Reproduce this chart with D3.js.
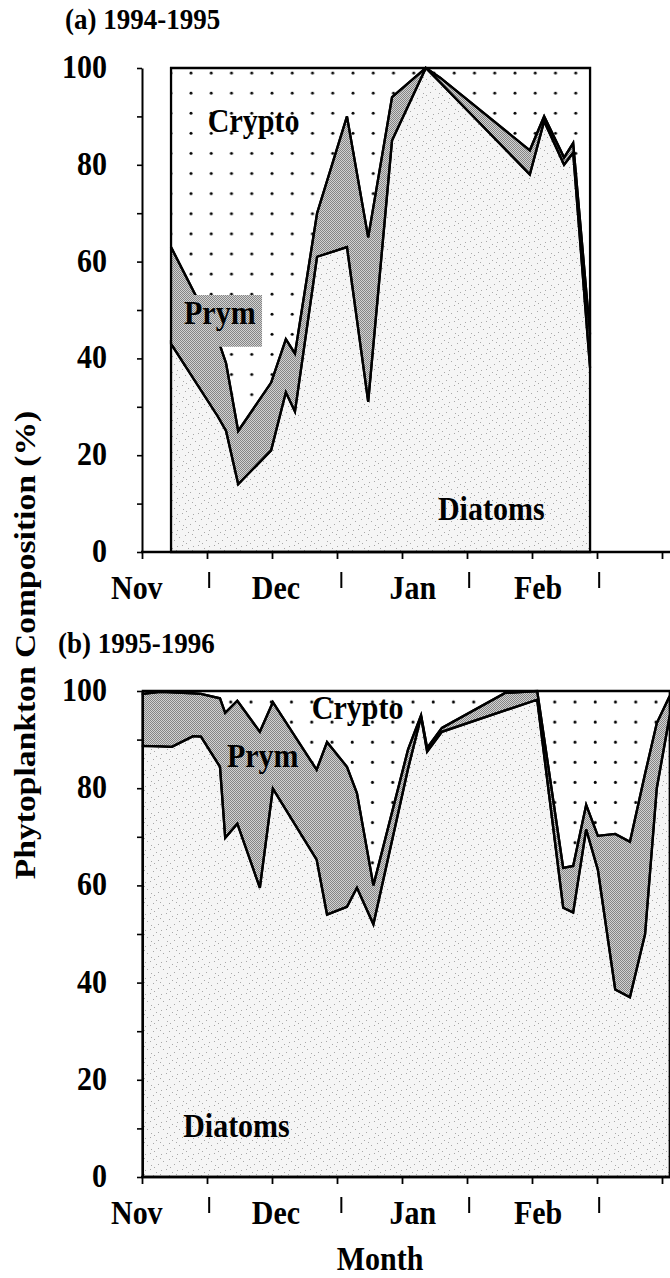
<!DOCTYPE html>
<html><head><meta charset="utf-8">
<script src="https://cdn.jsdelivr.net/npm/d3@7"></script>
<style>
html,body{margin:0;padding:0;background:#fff;}
svg{display:block;}
text{font-family:"Liberation Serif","Times New Roman",serif;font-weight:bold;fill:#000;}
</style>
</head><body><div id="chart"></div>
<script>
// ---------- data ----------
const months = ["Nov", "Dec", "Jan", "Feb"];
const monthCentres = [13.8, 45.9, 77.5, 106.4];      // day of season (Nov 1 = 0)
const monthBounds = [30.5, 61, 90.5, 120.5];
const xTicks = [15, 30, 45, 60, 75, 90, 105, 120, 135];
const yTicks = [0, 10, 20, 30, 40, 50, 60, 70, 80, 90, 100];
const yLabels = [0, 20, 40, 60, 80, 100];
const groups = ["Diatoms", "Prym", "Crypto"];

// (a) 1994-1995
const days9495     = [21.7, 32.5, 34.4, 37.2, 44.8, 48.2, 50.3, 55.4, 62.3, 67.2, 72.7, 80.5, 83.8, 104.5, 107.8, 112.4, 114.5, 118.4];
const diatoms9495  = [43, 28, 25, 14, 21, 33, 29, 61, 63, 31, 85, 100, 97, 78, 89, 80, 82.5, 38];
const prym9495     = [20, 16, 14, 11, 14, 11, 12, 9, 27, 34, 9, 0, 1, 5, 1, 1.5, 2, 7];
const crypto9495   = [37, 56, 61, 75, 65, 56, 59, 30, 10, 35, 6, 0, 2, 17, 10, 18.5, 15.5, 55];

// (b) 1995-1996
const days9596     = [15.2, 19.2, 21.9, 26.8, 28.6, 33.0, 34.2, 37.0, 42.2, 45.2, 55.3, 57.7, 62.3, 64.6, 68.4, 76.4, 79.4, 80.8, 84.2, 98.8, 106.2, 112.2, 114.5, 117.5, 120.2, 124.2, 127.6, 131.1, 133.8, 136.8];
const diatoms9596  = [88.7, 88.6, 88.5, 90.7, 90.6, 84.4, 69.8, 72.7, 59.5, 79.9, 65.3, 54.0, 55.6, 59.5, 52.0, 84.0, 94.7, 87.5, 91.6, 96.0, 98.2, 55.4, 54.4, 71.5, 63.2, 38.6, 37.0, 50.0, 80.0, 95.0];
const prym9596     = [10.7, 11.2, 11.2, 8.8, 8.8, 14.1, 25.7, 25.3, 32.1, 17.8, 18.5, 35.5, 28.8, 19.5, 8.0, 4.0, 0.3, 0.8, 0.8, 3.6, 1.8, 8.2, 9.6, 5.1, 7.0, 32.0, 32.0, 33.0, 13.4, 4.0];
const crypto9596   = [0.6, 0.2, 0.3, 0.5, 0.6, 1.5, 4.5, 2.0, 8.4, 2.3, 16.2, 10.5, 15.6, 21.0, 40.0, 12.0, 5.0, 11.7, 7.6, 0.4, 0, 36.4, 36.0, 23.4, 29.8, 29.4, 31.0, 17.0, 6.6, 1.0];

// ---------- setup ----------
const W = 670, H = 1278;
const svg = d3.select("#chart").append("svg").attr("width", W).attr("height", H);
const defs = svg.append("defs");

// Prym: halftone grey
const pp = defs.append("pattern").attr("id", "prymFill").attr("patternUnits", "userSpaceOnUse").attr("width", 2).attr("height", 2);
pp.append("rect").attr("width", 2).attr("height", 2).attr("fill", "#d2d2d2");
pp.append("rect").attr("width", 1).attr("height", 1).attr("fill", "#858585");
pp.append("rect").attr("x", 1).attr("y", 1).attr("width", 1).attr("height", 1).attr("fill", "#858585");

// Diatoms: light stipple
const dp = defs.append("pattern").attr("id", "diatomFill").attr("patternUnits", "userSpaceOnUse").attr("width", 16).attr("height", 16);
dp.append("rect").attr("width", 16).attr("height", 16).attr("fill", "#f5f5f5");
[[1,2],[6,1],[9,7],[3,9],[12,4],[14,12],[7,13],[0,6],[10,15]].forEach(p => {
  dp.append("rect").attr("x", p[0]).attr("y", p[1]).attr("width", 1).attr("height", 1).attr("fill", "#a8a8a8");
});

// Crypto: dot grid (one per panel, different phase)
function dotPattern(id, cx, cy) {
  const p = defs.append("pattern").attr("id", id).attr("patternUnits", "userSpaceOnUse").attr("width", 20.25).attr("height", 20.1);
  p.append("rect").attr("width", 20.25).attr("height", 20.1).attr("fill", "#fff");
  p.append("circle").attr("cx", cx).attr("cy", cy).attr("r", 1.5).attr("fill", "#000");
}
dotPattern("dots0", 8.75, 12.7);
dotPattern("dots1", 8.0, 18.6);

const x = d3.scaleLinear().domain([15, 135]).range([142, 662]);

function addText(g, str, px, py, anchor, size) {
  g.append("text")
    .attr("transform", `translate(${px},${py}) scale(1,1.1)`)
    .attr("text-anchor", anchor)
    .attr("font-size", size)
    .text(str);
}

const panels = [
  { title: "(a) 1994-1995", titleX: 65, titleY: 29, y0: 552, y100: 68,
    days: days9495, series: [diatoms9495, prym9495, crypto9495], dots: "dots0",
    labels: [
      { text: "Crypto", day: 30.2, v: 86.8 },
      { text: "Prym", day: 24.7, v: 47.1, box: [24.2, 42.7, 53.1, 42.4] },
      { text: "Diatoms", day: 83.3, v: 6.6 }
    ] },
  { title: "(b) 1995-1996", titleX: 58, titleY: 653, y0: 1177, y100: 691,
    days: days9596, series: [diatoms9596, prym9596, crypto9596], dots: "dots1",
    labels: [
      { text: "Crypto", day: 54.2, v: 94.2 },
      { text: "Prym", day: 34.6, v: 84.4 },
      { text: "Diatoms", day: 24.5, v: 8.2 }
    ] }
];

panels.forEach(cfg => {
  const g = svg.append("g");
  const y = d3.scaleLinear().domain([0, 100]).range([cfg.y0, cfg.y100]);
  const rows = cfg.days.map((d, i) => {
    const r = { day: d };
    groups.forEach((k, j) => r[k] = cfg.series[j][i]);
    return r;
  });
  const stacked = d3.stack().keys(groups)(rows);
  const area = d3.area().x(d => x(d.data.day)).y0(d => y(d[0])).y1(d => y(d[1]));
  const fills = { Diatoms: "url(#diatomFill)", Prym: "url(#prymFill)", Crypto: `url(#${cfg.dots})` };

  g.selectAll("path.fill").data(stacked).join("path").attr("class", "fill")
    .attr("d", area).attr("fill", d => fills[d.key]).attr("stroke", "none");
  g.selectAll("path.outline").data(stacked).join("path").attr("class", "outline")
    .attr("d", area).attr("fill", "none").attr("stroke", "#000").attr("stroke-width", 2.3)
    .attr("stroke-linejoin", "miter");

  // in-chart labels
  cfg.labels.forEach(l => {
    if (l.box) {
      g.append("rect").attr("x", x(l.box[0])).attr("y", y(l.box[2]))
        .attr("width", x(l.box[1]) - x(l.box[0])).attr("height", y(l.box[3]) - y(l.box[2]))
        .attr("fill", "url(#prymFill)");
    }
    addText(g, l.text, x(l.day), y(l.v), "start", 30);
  });

  // y axis
  const ga = g.append("g").attr("transform", "translate(142,0)")
    .call(d3.axisLeft(y).tickValues(yTicks).tickSize(5).tickSizeOuter(0).tickFormat(""));
  ga.select(".domain").attr("stroke-width", 2);
  ga.selectAll(".tick line").attr("stroke-width", 1.6);
  yLabels.forEach(v => addText(g, String(v), 107, y(v) + 10, "end", 30));

  // x axis
  const gx = g.append("g").attr("transform", `translate(0,${cfg.y0})`)
    .call(d3.axisBottom(x).tickValues(xTicks).tickSize(7).tickSizeOuter(0).tickFormat(""));
  gx.select(".domain").remove();
  gx.selectAll(".tick line").attr("stroke-width", 1.8);
  g.append("line").attr("x1", 141).attr("x2", W).attr("y1", cfg.y0).attr("y2", cfg.y0)
    .attr("stroke", "#000").attr("stroke-width", 2.4);
  monthBounds.forEach(b => {
    g.append("line").attr("x1", x(b)).attr("x2", x(b)).attr("y1", cfg.y0 + 20).attr("y2", cfg.y0 + 36)
      .attr("stroke", "#000").attr("stroke-width", 2);
  });
  months.forEach((m, i) => addText(g, m, x(monthCentres[i]), cfg.y0 + 47, "middle", 30));

  addText(g, cfg.title, cfg.titleX, cfg.titleY, "start", 27);
});

// axis titles
svg.append("text")
  .attr("transform", "translate(35,645) rotate(-90) scale(1.12,1)")
  .attr("text-anchor", "middle").attr("font-size", 30)
  .text("Phytoplankton Composition (%)");
addText(svg, "Month", 380, 1270, "middle", 30);
</script>
</body></html>
